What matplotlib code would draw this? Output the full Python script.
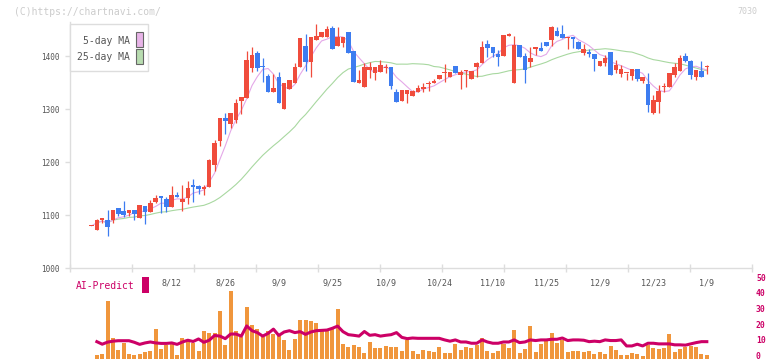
import numpy as np
import pandas as pd
import matplotlib
matplotlib.use('Agg')
import matplotlib.pyplot as plt
from matplotlib.patches import Rectangle

# ---- data ----
date_labels = ['8/12', '8/26', '9/9', '9/25', '10/9', '10/24', '11/10', '11/25', '12/9', '12/23', '1/9']
label_idx = [15, 25, 35, 45, 55, 65, 75, 85, 95, 105, 115]
ai_ticks = [0, 10, 20, 30, 40, 50]

open_ = [1080, 1073, 1092, 1092, 1092, 1114, 1109, 1104, 1110, 1094,
         1118, 1107, 1125, 1136, 1131, 1116, 1138, 1126, 1132, 1157,
         1155, 1150, 1154, 1195, 1241, 1284, 1273, 1280, 1316, 1321,
         1378, 1406, 1381, 1363, 1333, 1360, 1301, 1338, 1350, 1379,
         1420, 1390, 1431, 1437, 1437, 1453, 1420, 1426, 1446, 1410,
         1350, 1343, 1374, 1369, 1370, 1377, 1380, 1333, 1315, 1329,
         1325, 1333, 1339, 1347, 1349, 1358, 1368, 1360, 1382, 1364,
         1373, 1358, 1379, 1388, 1423, 1418, 1404, 1401, 1439, 1350,
         1421, 1400, 1390, 1413, 1416, 1427, 1430, 1448, 1442, 1435,
         1437, 1427, 1407, 1408, 1404, 1381, 1388, 1408, 1374, 1366,
         1368, 1362, 1376, 1353, 1348, 1293, 1314, 1342, 1343, 1365,
         1372, 1401, 1391, 1360, 1372, 1379]
high = [1080, 1093, 1095, 1110, 1110, 1114, 1127, 1110, 1110, 1120,
        1118, 1129, 1138, 1137, 1135, 1155, 1144, 1157, 1165, 1169,
        1157, 1158, 1206, 1242, 1284, 1293, 1293, 1320, 1324, 1410,
        1418, 1410, 1397, 1366, 1366, 1370, 1350, 1355, 1388, 1435,
        1443, 1436, 1461, 1445, 1457, 1457, 1455, 1436, 1446, 1410,
        1374, 1387, 1389, 1380, 1393, 1385, 1380, 1339, 1337, 1337,
        1336, 1346, 1349, 1354, 1357, 1365, 1386, 1371, 1382, 1374,
        1374, 1372, 1390, 1429, 1430, 1418, 1412, 1440, 1444, 1438,
        1421, 1406, 1417, 1417, 1427, 1427, 1458, 1455, 1459, 1437,
        1437, 1429, 1423, 1413, 1404, 1391, 1403, 1408, 1393, 1383,
        1369, 1376, 1376, 1361, 1368, 1327, 1345, 1350, 1369, 1388,
        1403, 1406, 1393, 1374, 1391, 1384]
low = [1080, 1073, 1086, 1060, 1085, 1099, 1096, 1099, 1091, 1094,
       1084, 1107, 1123, 1105, 1107, 1116, 1135, 1108, 1121, 1126,
       1140, 1138, 1154, 1184, 1230, 1254, 1265, 1275, 1292, 1321,
       1371, 1372, 1352, 1333, 1333, 1311, 1301, 1338, 1350, 1379,
       1373, 1360, 1431, 1437, 1437, 1414, 1420, 1418, 1407, 1352,
       1350, 1343, 1359, 1355, 1370, 1369, 1339, 1314, 1315, 1311,
       1325, 1333, 1333, 1335, 1349, 1358, 1352, 1360, 1368, 1338,
       1343, 1358, 1361, 1388, 1398, 1398, 1382, 1401, 1439, 1350,
       1398, 1350, 1380, 1403, 1410, 1419, 1419, 1439, 1435, 1413,
       1415, 1413, 1403, 1399, 1373, 1381, 1382, 1364, 1368, 1361,
       1355, 1355, 1354, 1350, 1295, 1291, 1293, 1333, 1343, 1360,
       1372, 1389, 1357, 1356, 1360, 1367]
close = [1080, 1092, 1095, 1077, 1110, 1103, 1101, 1110, 1102, 1119,
         1107, 1123, 1133, 1133, 1116, 1138, 1135, 1131, 1152, 1154,
         1150, 1153, 1204, 1237, 1284, 1277, 1293, 1312, 1324, 1393,
         1402, 1378, 1379, 1333, 1340, 1311, 1350, 1355, 1379, 1435,
         1390, 1436, 1439, 1445, 1452, 1414, 1436, 1436, 1407, 1352,
         1355, 1380, 1380, 1380, 1384, 1380, 1344, 1314, 1337, 1337,
         1335, 1340, 1343, 1350, 1353, 1365, 1369, 1371, 1368, 1371,
         1374, 1372, 1387, 1418, 1416, 1407, 1399, 1440, 1442, 1421,
         1398, 1375, 1397, 1417, 1410, 1420, 1455, 1439, 1435, 1436,
         1433, 1413, 1414, 1404, 1394, 1391, 1397, 1364, 1383, 1376,
         1369, 1376, 1357, 1361, 1308, 1318, 1335, 1344, 1369, 1380,
         1397, 1391, 1364, 1374, 1360, 1382]
volume = [0, 4, 5, 58, 21, 9, 16, 5, 4, 5,
          7, 8, 30, 10, 14, 16, 4, 21, 18, 16,
          8, 28, 26, 26, 48, 14, 68, 28, 22, 52,
          34, 30, 22, 28, 25, 24, 19, 9, 20, 39,
          39, 38, 36, 30, 29, 31, 50, 15, 12, 14,
          12, 6, 17, 11, 11, 13, 12, 12, 8, 19,
          8, 5, 9, 8, 7, 12, 6, 6, 15, 9,
          12, 11, 14, 21, 8, 6, 8, 15, 11, 29,
          6, 10, 33, 7, 15, 18, 26, 16, 19, 7,
          8, 8, 7, 8, 5, 7, 5, 13, 9, 4,
          4, 6, 5, 3, 14, 11, 10, 11, 25, 7,
          10, 12, 13, 12, 5, 4]
ai_predict = [np.nan, 10.1, 8.5, 9.8, 10.4, 10.7, 10.7, 10.7, 9.7, 8.4,
              9.3, 9.9, 9.3, 9.0, 9.0, 9.3, 8.4, 9.9, 11.0, 10.2,
              11.8, 9.7, 11.0, 14.0, 13.6, 12.0, 14.9, 14.9, 13.6, 20.0,
              17.0, 15.8, 13.6, 15.3, 18.0, 14.0, 16.2, 17.0, 15.8, 16.4,
              14.7, 16.2, 17.0, 17.2, 17.4, 18.5, 19.9, 16.4, 14.5, 14.1,
              13.6, 16.5, 14.1, 14.5, 13.6, 14.1, 14.5, 15.8, 12.8, 12.0,
              12.4, 12.2, 12.2, 12.2, 12.2, 12.2, 11.2, 10.4, 11.2, 9.9,
              9.9, 9.1, 9.1, 11.2, 9.9, 9.1, 9.1, 9.9, 9.9, 11.2,
              9.5, 9.9, 11.2, 10.8, 11.2, 11.2, 11.6, 11.6, 12.4, 10.8,
              11.2, 11.2, 11.0, 10.1, 10.4, 10.1, 11.2, 10.8, 10.8, 11.2,
              7.4, 7.4, 8.5, 7.4, 9.1, 9.1, 8.7, 8.7, 8.7, 8.1,
              8.1, 7.9, 8.7, 9.5, 10.1, 10.1]

RED = '#f04c3c'
BLUE = '#3d7cf0'
GRAY = '#dddddd'
TXT = '#555555'
CRIMSON = '#cc0066'
MONO = 'DejaVu Sans Mono'

W, H = 772, 361
fig = plt.figure(figsize=(W / 100, H / 100), dpi=100)


def px_axes(x0, y0, x1, y1):
    return fig.add_axes([x0 / W, 1 - y1 / H, (x1 - x0) / W, (y1 - y0) / H])


idx = np.arange(len(close))
o = np.array(open_, float)
c = np.array(close, float)
up = c >= o
col = np.where(up, RED, BLUE)
xlim = (-4.02, 123.5)

########################### price panel ###########################
ax = px_axes(70, 3.3, 752.3, 268.3)
ma5 = pd.Series(c).rolling(5, min_periods=1).mean()
ma25 = pd.Series(c).rolling(25, min_periods=1).mean()
ax.plot(idx[1:], ma25[1:], color='#a8d8a0', lw=0.8, zorder=1)
ax.plot(idx, ma5, color='#e4a8e8', lw=0.8, zorder=1)
ax.vlines(idx, low, high, colors=col, lw=0.9, zorder=2)
ax.bar(idx, np.maximum(np.abs(c - o), 1.6), bottom=np.minimum(o, c),
       width=0.85, color=col, lw=0, zorder=3)

ax.set_xlim(*xlim)
ax.set_ylim(1000, 1500)
for s in ['top', 'right']:
    ax.spines[s].set_visible(False)
for s in ['left', 'bottom']:
    ax.spines[s].set_color(GRAY)
    ax.spines[s].set_linewidth(1.0)
ax.spines['left'].set_bounds(1000, 1465)
ax.set_yticks([1000, 1100, 1200, 1300, 1400])
ax.tick_params(axis='y', length=3.6, width=1, color=GRAY, pad=4,
               labelsize=5.5, labelcolor=TXT)
ax.set_xticks(label_idx)
ax.set_xticklabels(date_labels)
ax.set_xticks(np.linspace(xlim[0], xlim[1], 12), minor=True)
ax.tick_params(axis='x', which='major', length=0, pad=7.5,
               labelsize=6, labelcolor=TXT)
ax.tick_params(axis='x', which='minor', length=5.8, width=1,
               color=GRAY, direction='inout')
for lab in ax.get_xticklabels() + ax.get_yticklabels():
    lab.set_family(MONO)

########################### volume / AI panel ###########################
axv = px_axes(70, 278.3, 752.3, 359)
axv.bar(idx, volume, width=0.75, color='#f0963c', lw=0)
axv.set_xlim(*xlim)
axv.set_ylim(0, 80.7)
axv.axis('off')

axa = axv.twinx()
axa.plot(idx, ai_predict, color=CRIMSON, lw=2.2)
axa.set_xlim(*xlim)
axa.set_ylim(-0.82, 50)
axa.set_yticks(ai_ticks)
axa.set_yticklabels([])
axa.tick_params(axis='y', length=0)
for s in axa.spines.values():
    s.set_visible(False)

########################### overlay texts ###########################
ov = fig.add_axes([0, 0, 1, 1], zorder=10)
ov.set_xlim(0, W)
ov.set_ylim(H, 0)
ov.axis('off')
ov.patch.set_alpha(0)

# right-hand scale of the AI panel, placed in pixels so "0" stays inside
for v in ai_ticks:
    ov.text(756, 356.6 - v * 1.57, str(v), fontsize=5.8, color=CRIMSON,
            family=MONO, fontweight='bold', ha='left', va='center')

ov.text(14, 12, '(C)https://chartnavi.com/', fontsize=7, color='#cccccc',
        family=MONO, va='center', ha='left')
ov.text(757, 12, '7030', fontsize=6, color='#cccccc', family=MONO,
        va='center', ha='right')

ov.add_patch(Rectangle((70.3, 24), 78, 47, fc='white', ec=GRAY, lw=1))
ov.text(130, 41, '5-day MA', fontsize=7, color=TXT, family=MONO,
        ha='right', va='center')
ov.text(130, 57, '25-day MA', fontsize=7, color=TXT, family=MONO,
        ha='right', va='center')
ov.add_patch(Rectangle((136, 31.5), 6.5, 15, fc='#e8b4e8', ec='#666666', lw=0.8))
ov.add_patch(Rectangle((136, 48.5), 6.5, 15, fc='#b8dcb0', ec='#666666', lw=0.8))

ov.text(76, 286, 'AI-Predict', fontsize=7, color=CRIMSON, family=MONO,
        ha='left', va='center')
ov.add_patch(Rectangle((142, 277), 7, 16, fc=CRIMSON, ec='none'))

fig.savefig('out.png', dpi=100)
